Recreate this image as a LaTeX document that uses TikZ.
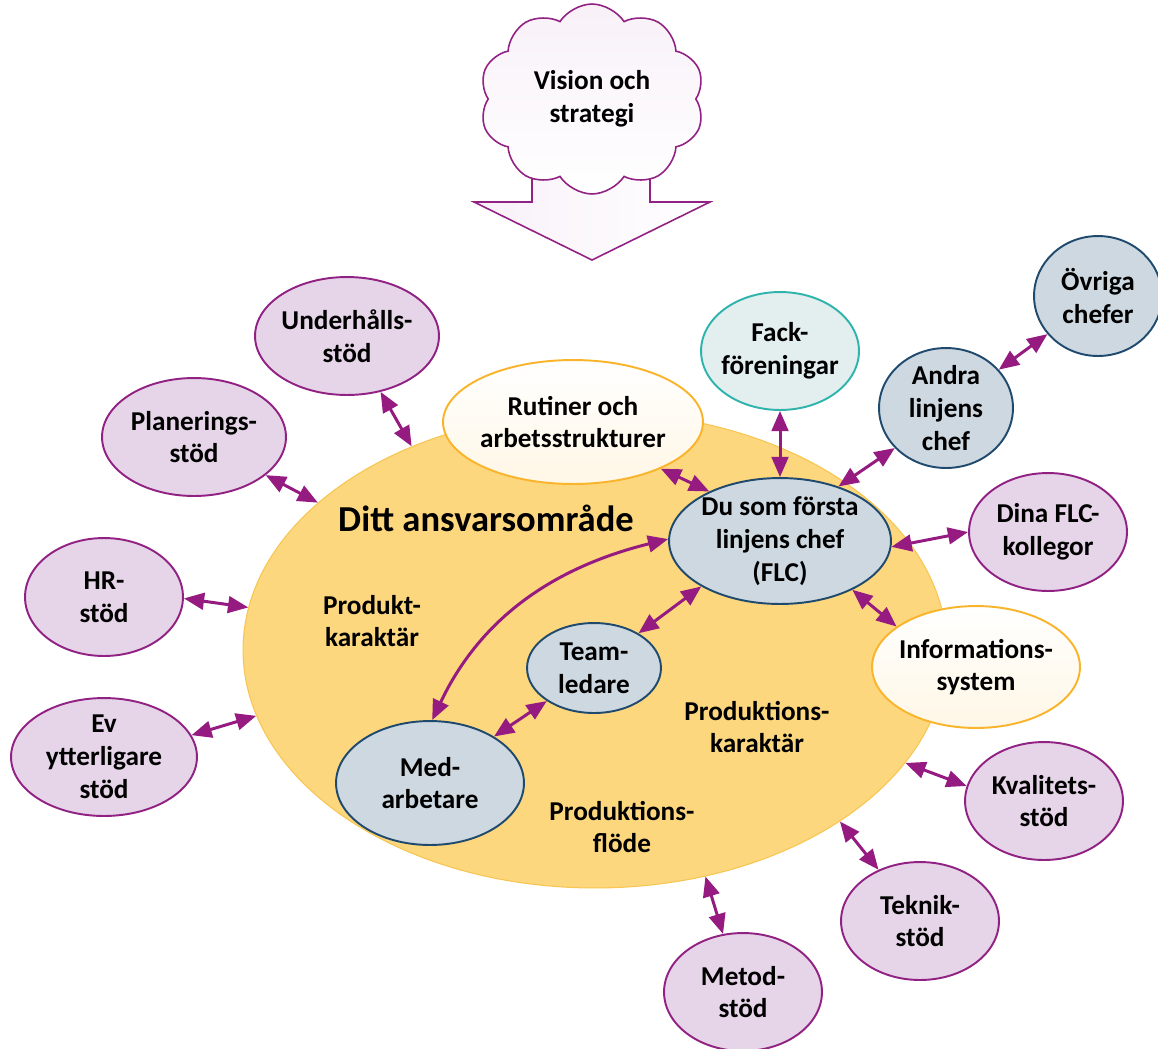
\documentclass[tikz,border=0pt]{standalone}
\usepackage{fontspec}
\setmainfont{Carlito}
\usetikzlibrary{shapes.geometric,shapes.symbols,arrows.meta}

\definecolor{areaY}{HTML}{FDD77E}
\definecolor{areaB}{HTML}{F7C652}
\definecolor{stodF}{HTML}{E6D5E8}
\definecolor{stodB}{HTML}{912182}
\definecolor{linkC}{HTML}{951B81}
\definecolor{chefF}{HTML}{CDD8E1}
\definecolor{chefB}{HTML}{1F4A6E}
\definecolor{fackF}{HTML}{E3EEEE}
\definecolor{fackB}{HTML}{2EB3AD}
\definecolor{sysB}{HTML}{F9B42B}
\definecolor{sysF}{HTML}{FFF7E6}
\definecolor{visF}{HTML}{F8F1F8}

\begin{document}
\begin{tikzpicture}[x=0.02cm,y=-0.02cm,
  txt/.style={font=\bfseries\fontsize{15.5}{18.7}\selectfont, align=center, inner sep=0pt},
  bub/.style={ellipse, inner sep=0pt, line width=1.1pt},
  sz/.style 2 args={minimum width=#1*0.04cm, minimum height=#2*0.04cm},
  stod/.style={bub, draw=stodB, fill=stodF},
  chef/.style={bub, draw=chefB, fill=chefF},
  sys/.style={bub, draw=sysB, shading angle=45, top color=white, bottom color=sysF},
  link/.style={draw=linkC, line width=1.7pt,
    {Triangle[length=11.5pt,width=9.5pt]}-{Triangle[length=11.5pt,width=9.5pt]}}
]
\useasboundingbox (0,0) rectangle (1158,1048);

% downward arrow from the vision cloud
\path[draw=stodB, line width=0.9pt, left color=visF, right color=white]
  (532,160) -- (532,202) -- (474,202) -- (592,260) -- (710,202) -- (650,202) -- (650,160);
\node[cloud, cloud puffs=10, cloud puff arc=115, aspect=1.33, draw=stodB, line width=0.9pt,
  top color=visF, bottom color=white, inner sep=0pt, minimum width=4.5cm, minimum height=3.8cm,
  label={[txt]center:Vision och\\strategi}] (vision) at (592,99) {};

% area of responsibility
\node[ellipse, fill=areaY, draw=areaB, line width=0.6pt, minimum width=14.08cm, minimum height=9.52cm]
  (area) at (595,650) {};
\node[txt, font=\bfseries\fontsize{20.8}{25}\selectfont] (ditt) at (486,518) {Ditt ansvarsområde};
\node[txt] (pkar) at (372,621) {Produkt-\\karaktär};
\node[txt] (prkar) at (757,727) {Produktions-\\karaktär};
\node[txt] (pflode) at (622,827) {Produktions-\\flöde};

% support functions
\node[stod, sz={92}{59}, label={[txt]center:Underhålls-\\stöd}] (under) at (347,336) {};
\node[stod, sz={92}{59}, label={[txt]center:Planerings-\\stöd}] (plan) at (194,437) {};
\node[stod, sz={79}{59}, label={[txt]center:HR-\\stöd}] (hr) at (104,597) {};
\node[stod, sz={93}{59}, label={[txt]center:Ev\\ytterligare\\stöd}] (ev) at (104,757) {};
\node[stod, sz={79}{59}, label={[txt]center:Metod-\\stöd}] (metod) at (743,992) {};
\node[stod, sz={79}{59}, label={[txt]center:Teknik-\\stöd}] (teknik) at (920,921) {};
\node[stod, sz={79}{59}, label={[txt]center:Kvalitets-\\stöd}] (kval) at (1044,801) {};
\node[stod, sz={79}{59}, label={[txt]center:Dina FLC-\\kollegor}] (dina) at (1048,532) {};

% systems and routines
\node[sys, sz={130}{62}, label={[txt]center:Rutiner och\\arbetsstrukturer}] (rut) at (573,422) {};
\node[sys, sz={104}{61}, label={[txt]center:Informations-\\system}] (info) at (976,667) {};

% unions
\node[bub, draw=fackB, fill=fackF, sz={79}{59}, label={[txt]center:Fack-\\föreningar}] (fack) at (780,351) {};

% managers and staff
\node[chef, sz={111}{63}, label={[txt]center:Du som första\\linjens chef\\(FLC)}] (flc) at (780,541) {};
\node[chef, sz={67}{60}, label={[txt]center:Andra\\linjens\\chef}] (andra) at (946,408) {};
\node[chef, sz={64}{60}, label={[txt]center:Övriga\\chefer}] (ovr) at (1098,296) {};
\node[chef, sz={67}{45}, label={[txt]center:Team-\\ledare}] (team) at (594,668) {};
\node[chef, sz={94}{62}, label={[txt]center:Med-\\arbetare}] (med) at (430,783) {};

% links
\draw[link] (under.-59) -- (area.132);
\draw[link] (plan.-28) -- (area.152);
\draw[link] (hr.-1) -- (area.173);
\draw[link] (ev.14) -- (area.191);
\draw[link] (metod.109) -- (area.-64);
\draw[link] (teknik.129) -- (area.-35.5);
\draw[link] (kval.169) -- (area.-20);
\draw[link] (info.153) -- (flc.-34);
\draw[link] (dina.180) -- (flc.-3);
\draw[link] (andra.-142) -- (flc.43);
\draw[link] (ovr.-143) -- (andra.36);
\draw[link] (fack.-90) -- (flc.90);
\draw[link] (rut.-28) -- (flc.145);
\draw[link] (team.38) -- (flc.-150);
\draw[link] (med.36) -- (team.-145);
\draw[link] (med.88) .. controls (481,617) and (555,567) .. (flc.179);
\end{tikzpicture}
\end{document}
